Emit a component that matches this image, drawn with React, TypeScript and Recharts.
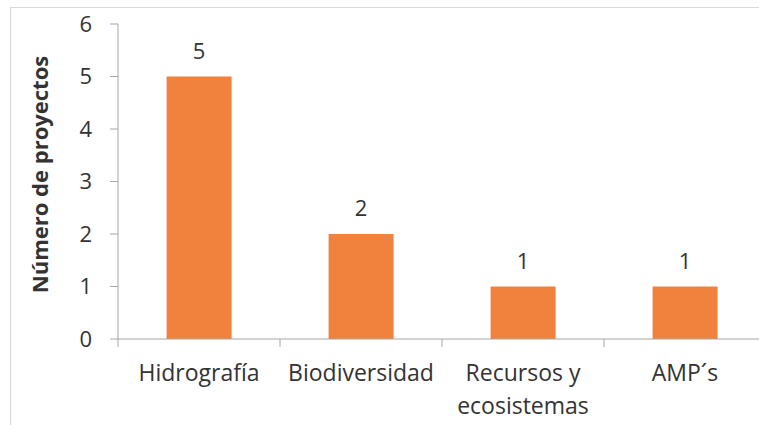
import { BarChart, Bar, XAxis, YAxis, LabelList, Label, Text } from 'recharts';

const categories = ['Hidrografía', 'Biodiversidad', 'Recursos y ecosistemas', 'AMP´s'];
const projects = [5, 2, 1, 1];
const yTicks = [0, 1, 2, 3, 4, 5, 6];

const data = categories.map((name, i) => ({ name, proyectos: projects[i] }));

const FONT = '"Open Sans", sans-serif';
const AXIS = '#a6a6a6';
const TEXT = '#333333';
const BAR = '#f0823e';

const CHART_W = 766;
const MARGIN_LEFT = 0;
const Y_WIDTH = 118;
const band = (CHART_W - MARGIN_LEFT - Y_WIDTH) / categories.length;

// category label plus a tick mark on the left edge of each band
const CategoryTick = (props: any) => {
  const { x, y, payload } = props;
  return (
    <g>
      <line x1={x - band / 2} y1={y - 10} x2={x - band / 2} y2={y - 2} stroke={AXIS} />
      <Text
        x={x}
        y={y + 16}
        width={160}
        textAnchor="middle"
        verticalAnchor="start"
        lineHeight={33}
        style={{ fontSize: 23, fontFamily: FONT }}
        fontSize={23}
        fontFamily={FONT}
        fill={TEXT}
      >
        {payload.value}
      </Text>
    </g>
  );
};

export default function App() {
  return (
    <div style={{ position: 'absolute', left: 0, top: 0, width: 759, height: 425, overflow: 'hidden', background: '#fff' }}>
      <div
        style={{
          position: 'absolute',
          left: 10,
          top: 7,
          width: 800,
          height: 500,
          border: '1px solid #d9d9d9',
        }}
      />
      <div style={{ position: 'absolute', left: 0, top: 0 }}>
        <BarChart
          width={CHART_W}
          height={425}
          data={data}
          margin={{ top: 24, right: 0, bottom: 0, left: MARGIN_LEFT }}
          barCategoryGap="30%"
        >
          <XAxis
            dataKey="name"
            height={86}
            axisLine={{ stroke: AXIS }}
            tickLine={false}
            tickSize={8}
            interval={0}
            tick={<CategoryTick />}
          />
          <YAxis
            width={Y_WIDTH}
            domain={[0, 6]}
            ticks={yTicks}
            interval={0}
            axisLine={{ stroke: AXIS }}
            tickLine={{ stroke: AXIS }}
            tickSize={8}
            tickMargin={18}
            tick={{ fontSize: 22, fontFamily: FONT, fill: TEXT }}
          >
            <Label
              content={(p: any) => {
                const vb = p.viewBox;
                const cx = vb.x + 39;
                const cy = vb.y + vb.height / 2 - 7;
                return (
                  <text
                    x={cx}
                    y={cy}
                    transform={`rotate(-90 ${cx} ${cy})`}
                    textAnchor="middle"
                    dominantBaseline="central"
                    fontSize={22}
                    fontWeight="bold"
                    fontFamily={FONT}
                    fill={TEXT}
                  >
                    Número de proyectos
                  </text>
                );
              }}
            />
          </YAxis>
          <Bar dataKey="proyectos" fill={BAR} isAnimationActive={false}>
            <LabelList
              dataKey="proyectos"
              position="top"
              offset={18}
              fontSize={22}
              fontFamily={FONT}
              fill={TEXT}
            />
          </Bar>
        </BarChart>
      </div>
    </div>
  );
}
